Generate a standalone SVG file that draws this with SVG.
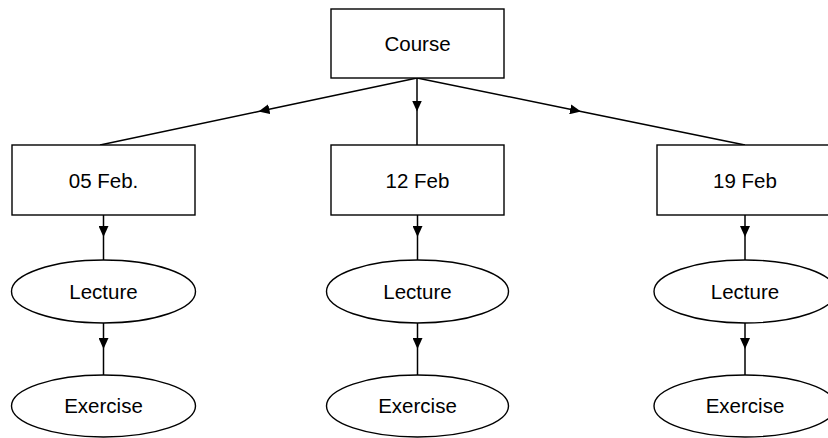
<svg xmlns="http://www.w3.org/2000/svg" width="828" height="438" viewBox="0 0 828 438">
<style>
.box{fill:#fff;stroke:#000;stroke-width:1.4}
.lbl{font-family:"Liberation Sans",Arial,sans-serif;font-size:20.5px;fill:#000;text-anchor:middle}
.edge{fill:none;stroke:#000;stroke-width:1.5}
</style>
<defs>
<marker id="ah" viewBox="0 0 11 10" refX="11" refY="5" markerWidth="11" markerHeight="10" markerUnits="userSpaceOnUse" orient="auto">
<path d="M0,0 L11,5 L0,10 Z" fill="#000"/>
</marker>
</defs>
<rect width="828" height="438" fill="#fff"/>
<g id="connectors">
<path class="edge" d="M417,78 L258.5,111.5 L100,145" marker-mid="url(#ah)"/>
<path class="edge" d="M417,78 L417,111.5 L417,145" marker-mid="url(#ah)"/>
<path class="edge" d="M417,78 L581,111.5 L745,145" marker-mid="url(#ah)"/>
<path class="edge" d="M103.5,215 L103.5,237 L103.5,260" marker-mid="url(#ah)"/>
<path class="edge" d="M417.5,215 L417.5,237 L417.5,260" marker-mid="url(#ah)"/>
<path class="edge" d="M745,215 L745,237 L745,260" marker-mid="url(#ah)"/>
<path class="edge" d="M103.5,323 L103.5,349 L103.5,375" marker-mid="url(#ah)"/>
<path class="edge" d="M417.5,323 L417.5,349 L417.5,375" marker-mid="url(#ah)"/>
<path class="edge" d="M745,323 L745,349 L745,375" marker-mid="url(#ah)"/>
</g>
<g id="course"><rect class="box" x="331" y="9" width="173" height="69"/><text class="lbl" x="417.5" y="51">Course</text></g>
<g id="feb05"><rect class="box" x="12" y="145" width="183" height="70"/><text class="lbl" x="103.5" y="188">05 Feb.</text></g>
<g id="feb12"><rect class="box" x="331" y="145" width="173" height="70"/><text class="lbl" x="417.5" y="188">12 Feb</text></g>
<g id="feb19"><rect class="box" x="657" y="145" width="183" height="70"/><text class="lbl" x="745" y="188">19 Feb</text></g>
<g id="lecture05"><ellipse class="box" cx="103.5" cy="291.5" rx="92" ry="31.5"/><text class="lbl" x="103.5" y="299">Lecture</text></g>
<g id="lecture12"><ellipse class="box" cx="417.5" cy="291.5" rx="91" ry="31.5"/><text class="lbl" x="417.5" y="299">Lecture</text></g>
<g id="lecture19"><ellipse class="box" cx="745" cy="291.5" rx="91" ry="31.5"/><text class="lbl" x="745" y="299">Lecture</text></g>
<g id="exercise05"><ellipse class="box" cx="103.5" cy="406" rx="92" ry="31"/><text class="lbl" x="103.5" y="413">Exercise</text></g>
<g id="exercise12"><ellipse class="box" cx="417.5" cy="406" rx="91" ry="31"/><text class="lbl" x="417.5" y="413">Exercise</text></g>
<g id="exercise19"><ellipse class="box" cx="745" cy="406" rx="91" ry="31"/><text class="lbl" x="745" y="413">Exercise</text></g>
</svg>
